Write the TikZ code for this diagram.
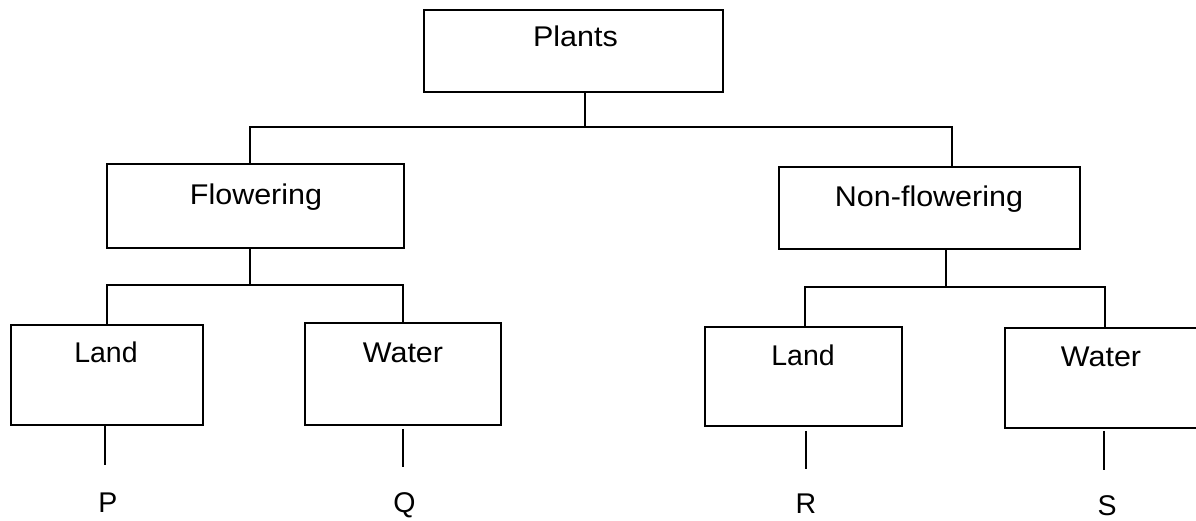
\documentclass[tikz,border=0pt]{standalone}
\usepackage{fontspec}
\setmainfont{Liberation Sans}
\newcommand{\widetext}[1]{\scalebox{1.07}[1]{#1}}
\begin{document}
\begin{tikzpicture}[x=1pt,y=-1pt,
  box/.style={draw=black,line width=1.8pt,rectangle,inner sep=0pt},
  lbl/.style={anchor=base,inner sep=0pt,font=\fontsize{28.5}{30}\selectfont},
  conn/.style={draw=black,line width=1.7pt}]
\useasboundingbox (0,0) rectangle (1196,520);
\clip (0,0) rectangle (1196,520);
\fill[white] (0,0) rectangle (1196,520);
% boxes
\node[box,minimum width=299pt,minimum height=82pt] (plants) at (573.5,51) {};
\node[box,minimum width=297pt,minimum height=84pt] (flow) at (255.5,206) {};
\node[box,minimum width=301pt,minimum height=82pt] (nonf) at (929.5,208) {};
\node[box,minimum width=192pt,minimum height=100pt] (land1) at (107,375) {};
\node[box,minimum width=196pt,minimum height=102pt] (water1) at (403,374) {};
\node[box,minimum width=197pt,minimum height=99pt] (land2) at (803.5,376.5) {};
\node[box,minimum width=200pt,minimum height=100pt] (water2) at (1105,378) {};
% labels
\node[lbl] (tplants) at (575.5,46) {\widetext{Plants}};
\node[lbl] (tflow) at (256,204) {\widetext{Flowering}};
\node[lbl] (tnonf) at (929,206) {\widetext{Non-flowering}};
\node[lbl] (tland1) at (106,362) {Land};
\node[lbl] (twater1) at (403,362) {\widetext{Water}};
\node[lbl] (tland2) at (803,365) {Land};
\node[lbl] (twater2) at (1101,366) {\widetext{Water}};
\node[lbl] (P) at (108,512) {P};
\node[lbl] (Q) at (404.5,512) {Q};
\node[lbl] (R) at (806,513) {R};
\node[lbl] (S) at (1107,515) {S};
% junctions
\coordinate (j0) at (585,127);
\coordinate (jl) at (250,127);
\coordinate (jr) at (952,127);
\coordinate (k0) at (250,285);
\coordinate (kl) at (107,285);
\coordinate (kr) at (403,285);
\coordinate (m0) at (946,287);
\coordinate (ml) at (805,287);
\coordinate (mr) at (1105,287);
\coordinate (eP) at (105,465);
\coordinate (eQ) at (403,467);
\coordinate (eR) at (806,469);
\coordinate (eS) at (1104,470);
% connectors
\draw[conn] (plants.south -| j0) -- (j0);
\draw[conn] (flow.north -| jl) -- (jl) -- (jr) -- (nonf.north -| jr);
\draw[conn] (flow.south -| k0) -- (k0);
\draw[conn] (land1.north -| kl) -- (kl) -- (kr) -- (water1.north -| kr);
\draw[conn] (nonf.south -| m0) -- (m0);
\draw[conn] (land2.north -| ml) -- (ml) -- (mr) -- (water2.north -| mr);
\draw[conn] (land1.south -| eP) -- (eP);
\draw[conn] ([yshift=-3pt]water1.south -| eQ) -- (eQ);
\draw[conn] ([yshift=-4pt]land2.south -| eR) -- (eR);
\draw[conn] ([yshift=-2pt]water2.south -| eS) -- (eS);
\end{tikzpicture}
\end{document}
